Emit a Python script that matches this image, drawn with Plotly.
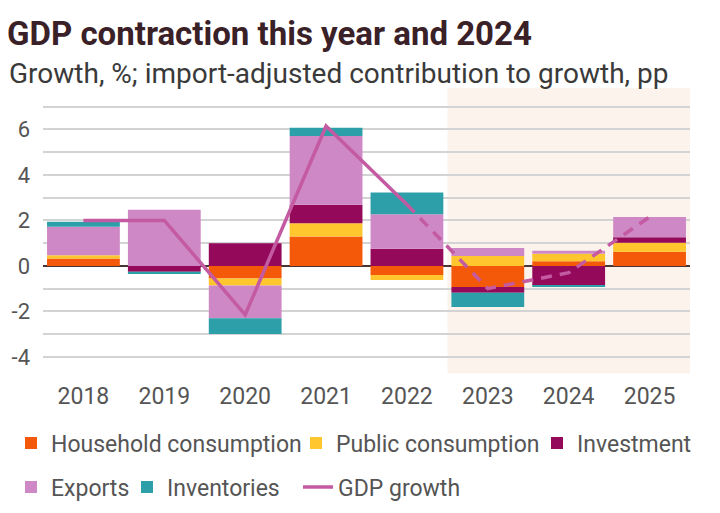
import plotly.graph_objects as go

years = ["2018", "2019", "2020", "2021", "2022", "2023", "2024", "2025"]
household = [0.33, 0.0, -0.55, 1.29, -0.40, -0.93, 0.20, 0.62]
public = [0.14, 0.0, -0.31, 0.58, -0.22, 0.43, 0.33, 0.40]
investment = [0.0, -0.26, 1.00, 0.82, 0.75, -0.25, -0.86, 0.24]
exports = [1.25, 2.47, -1.44, 3.02, 1.52, 0.36, 0.14, 0.89]
inventories = [0.22, -0.10, -0.69, 0.36, 0.96, -0.63, -0.07, 0.0]
gdp = [2.0, 2.0, -2.15, 6.15, 2.7, -1.0, -0.3, 2.15]
n_actual = 5  # 2018-2022 actual (solid), then forecast (dashed)

yticks = [-4, -2, 0, 2, 4, 6]
yminor = [-3, -1, 1, 3, 5, 7]

FONT = "Roboto"
W, H = 720, 513

series = [
    ("Household consumption", household, "#F4590A"),
    ("Public consumption", public, "#FFC62E"),
    ("Investment", investment, "#94095A"),
    ("Exports", exports, "#CE88C5"),
    ("Inventories", inventories, "#2C9FA9"),
]

fig = go.Figure()
legend_names = ["legend", "legend2", "legend3", "legend4", "legend5"]
for (name, vals, col), lg in zip(series, legend_names):
    fig.add_trace(go.Bar(x=years, y=vals, name=name, marker=dict(color=col, line=dict(width=0)),
                         legend=lg, showlegend=True))

line_col = "#C35AA2"
fig.add_trace(go.Scatter(x=years[:n_actual], y=gdp[:n_actual], mode="lines", name="GDP growth",
                         line=dict(color=line_col, width=3.5), legend="legend6", legendgroup="gdp",
                         showlegend=True))
fig.add_trace(go.Scatter(x=years[n_actual - 1:], y=gdp[n_actual - 1:], mode="lines", name="GDP growth",
                         line=dict(color=line_col, width=3.5, dash="11px,8px"), showlegend=False,
                         legend="legend6", legendgroup="gdp"))

fig.add_shape(type="rect", xref="x", yref="paper", x0=4.5, x1=7.55, y0=0, y1=1.0,
              fillcolor="#FCF4EC", line=dict(width=0), layer="below")

def leg(xc, yc):
    return dict(x=(xc - 20) / W, y=1 - yc / H, xref="container", yref="container",
                xanchor="left", yanchor="middle", orientation="h", bgcolor="rgba(0,0,0,0)",
                font=dict(family=FONT, size=23, color="#555555"), itemwidth=30,
                traceorder="normal")

fig.update_layout(
    width=W, height=H,
    margin=dict(l=43, r=30, t=88, b=133),
    paper_bgcolor="white", plot_bgcolor="white",
    barmode="relative", bargap=0.1,
    showlegend=True,
    font=dict(family=FONT, color="#555555"),
    title=dict(text="<b>GDP contraction this year and 2024</b>", x=7 / W, xref="container",
               xanchor="left", y=1 - 33 / H, yref="container", yanchor="middle",
               font=dict(family=FONT, size=33, color="#3A2127")),
    annotations=[dict(text="Growth, %; import-adjusted contribution to growth, pp",
                      x=(7 - 43) / (W - 73), y=1 + (88 - 73) / (H - 221),
                      xref="paper", yref="paper", xanchor="left", yanchor="middle", showarrow=False,
                      font=dict(family=FONT, size=28, color="#3a3a3a"))],
    legend=leg(31, 443), legend2=leg(316, 443), legend3=leg(557, 443),
    legend4=leg(31, 487), legend5=leg(147, 487), legend6=leg(318, 487),
)

fig.update_xaxes(range=[-0.5, 7.5], showgrid=False, zeroline=False, showline=False, ticks="",
                 tickfont=dict(family=FONT, size=23, color="#555555"), ticklabelstandoff=6)
fig.update_yaxes(range=[-4.73, 7.82], tickvals=yticks, ticktext=[str(v) for v in yticks],
                 showgrid=True, gridcolor="#D3D3D3", gridwidth=1.5,
                 minor=dict(tickvals=yminor, showgrid=True, gridcolor="#D3D3D3", gridwidth=1.5),
                 zeroline=True, zerolinecolor="#4A3535", zerolinewidth=2,
                 tickfont=dict(family=FONT, size=22, color="#555555"), ticklabelstandoff=12)

fig.write_html("out.html")
